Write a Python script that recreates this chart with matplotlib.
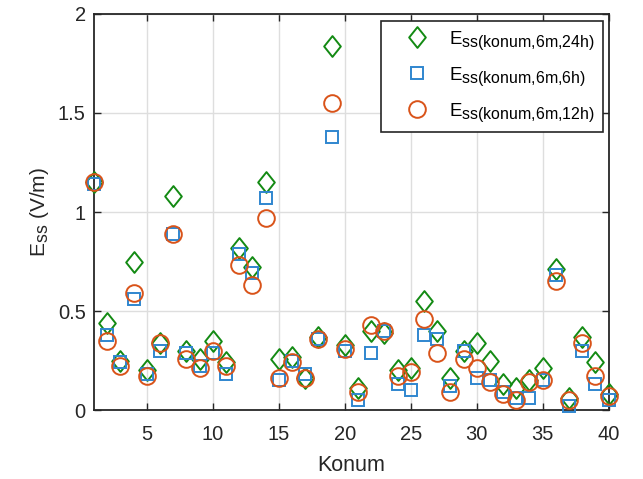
import matplotlib
matplotlib.use("Agg")
import matplotlib.pyplot as plt
from matplotlib.path import Path
import matplotlib._mathtext as _mt

plt.rcParams["font.family"] = ["Liberation Sans", "DejaVu Sans"]
plt.rcParams["mathtext.fontset"] = "custom"
plt.rcParams["mathtext.rm"] = "Liberation Sans"
plt.rcParams["mathtext.it"] = "Liberation Sans:italic"
# larger subscripts than the mathtext default
_mt.SHRINK_FACTOR = 0.85

konum = list(range(1, 41))

e_24h = [1.15, 0.44, 0.25, 0.75, 0.20, 0.34, 1.08, 0.30, 0.26, 0.35,
         0.24, 0.82, 0.72, 1.15, 0.26, 0.27, 0.16, 0.37, 1.84, 0.33,
         0.11, 0.40, 0.39, 0.20, 0.21, 0.55, 0.40, 0.16, 0.30, 0.34,
         0.25, 0.13, 0.11, 0.15, 0.21, 0.71, 0.06, 0.37, 0.24, 0.08]

e_6h = [1.14, 0.38, 0.24, 0.56, 0.18, 0.30, 0.89, 0.29, 0.22, 0.29,
        0.18, 0.79, 0.69, 1.07, 0.15, 0.25, 0.18, 0.36, 1.38, 0.30,
        0.05, 0.29, 0.40, 0.13, 0.10, 0.38, 0.36, 0.12, 0.30, 0.16,
        0.15, 0.09, 0.06, 0.06, 0.15, 0.68, 0.02, 0.30, 0.13, 0.05]

e_12h = [1.15, 0.35, 0.22, 0.59, 0.17, 0.34, 0.89, 0.26, 0.21, 0.30,
         0.22, 0.73, 0.63, 0.97, 0.16, 0.24, 0.16, 0.36, 1.55, 0.31,
         0.09, 0.43, 0.40, 0.17, 0.19, 0.46, 0.29, 0.09, 0.26, 0.21,
         0.14, 0.08, 0.05, 0.14, 0.15, 0.65, 0.05, 0.34, 0.17, 0.07]

labels = [r"$\mathregular{E_{ss(konum{,}6m{,}24h)}}$",
          r"$\mathregular{E_{ss(konum{,}6m{,}6h)}}$",
          r"$\mathregular{E_{ss(konum{,}6m{,}12h)}}$"]

green = "#138a13"
blue = "#2f86cf"
orange = "#d95319"
ink = "#262626"

# diamond marker, slightly taller than wide
diamond = Path([(0, 1), (0.8, 0), (0, -1), (-0.8, 0), (0, 1)],
               [Path.MOVETO, Path.LINETO, Path.LINETO, Path.LINETO, Path.CLOSEPOLY])

fig = plt.figure(figsize=(6.43, 4.79), dpi=100)
ax = fig.add_axes([0.1462, 0.144, 0.8004, 0.8268])

common = dict(linestyle="none", markerfacecolor="none", markeredgewidth=1.4,
              zorder=3, clip_on=False)
ax.plot(konum, e_24h, marker=diamond, markersize=15, markeredgecolor=green,
        label=labels[0], **common)
ax.plot(konum, e_6h, marker="s", markersize=9, markeredgecolor=blue,
        label=labels[1], **common)
ax.plot(konum, e_12h, marker="o", markersize=12, markeredgecolor=orange,
        label=labels[2], **common)

ax.set_xlim(1, 40)
ax.set_ylim(0, 2)
ax.set_xticks([5, 10, 15, 20, 25, 30, 35, 40])
ax.set_yticks([0, 0.5, 1, 1.5, 2])
ax.set_yticklabels(["0", "0.5", "1", "1.5", "2"])
ax.grid(True, color="#dedede", linewidth=1.0, zorder=0)
ax.set_axisbelow(True)

ax.tick_params(direction="in", top=True, right=True, length=5, width=1.0,
               labelsize=14.5, colors=ink)
ax.tick_params(axis="x", pad=11)
ax.tick_params(axis="y", pad=6)
for s in ax.spines.values():
    s.set_linewidth(1.3)
    s.set_color(ink)

ax.set_xlabel("Konum", fontsize=15.5, color=ink, labelpad=8)
ax.set_ylabel(r"$\mathregular{E_{ss}}$ (V/m)", fontsize=15, color=ink, labelpad=5)

leg = ax.legend(loc="upper right", numpoints=1, fontsize=13.5, frameon=True,
                fancybox=False, edgecolor=ink, framealpha=1,
                borderpad=0.42, labelspacing=0.72, handletextpad=0.25,
                handlelength=3.0, borderaxespad=0,
                bbox_to_anchor=(0.989, 0.982))
leg.get_frame().set_linewidth(1.2)

fig.savefig("out.png", dpi=100)
